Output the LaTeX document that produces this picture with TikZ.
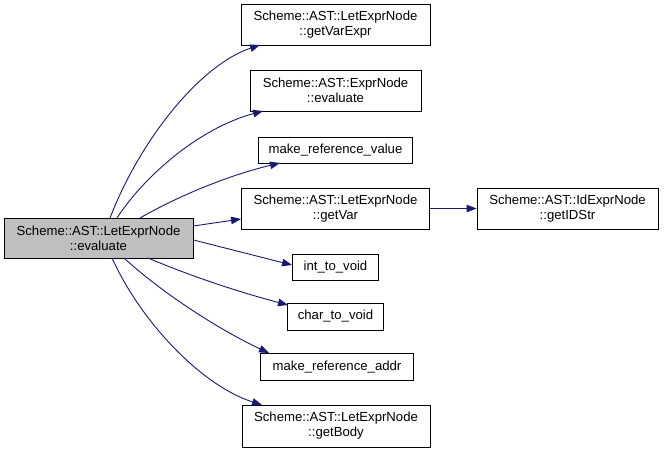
\documentclass[tikz,border=0pt]{standalone}
\usepackage{fontspec}
\setmainfont{Liberation Sans}
\usetikzlibrary{arrows.meta}
\definecolor{edgeblue}{HTML}{191970}
\definecolor{mainfill}{HTML}{BFBFBF}
\begin{document}
\begin{tikzpicture}[x=1bp,y=-1bp,
  box/.style={draw=black, line width=0.9bp, fill=white, inner sep=0pt, align=center,
    font=\fontsize{13.2}{15.2}\selectfont, text=black},
  edge/.style={draw=edgeblue, line width=0.9bp, -{Triangle[length=10bp,width=7.5bp]}, fill=none}]
\useasboundingbox (0,0) rectangle (664,453);
\node[box, fill=mainfill, minimum width=189bp, minimum height=40bp] (main) at (98.5,238) {Scheme::AST::LetExprNode\\::evaluate};
\node[box, minimum width=189bp, minimum height=41bp] (gve) at (335.5,24.5) {Scheme::AST::LetExprNode\\::getVarExpr};
\node[box, minimum width=171bp, minimum height=41bp] (ee) at (335.5,90.5) {Scheme::AST::ExprNode\\::evaluate};
\node[box, minimum width=154bp, minimum height=26bp] (mrv) at (335.5,150) {make\_reference\_value};
\node[box, minimum width=188bp, minimum height=41bp] (gv) at (335.5,208.5) {Scheme::AST::LetExprNode\\::getVar};
\node[box, minimum width=181bp, minimum height=41bp] (gid) at (567.5,208.5) {Scheme::AST::IdExprNode\\::getIDStr};
\node[box, minimum width=86bp, minimum height=26bp] (itv) at (335.5,267) {int\_to\_void};
\node[box, minimum width=96bp, minimum height=27bp] (ctv) at (335.5,316.5) {char\_to\_void};
\node[box, minimum width=153bp, minimum height=27bp] (mra) at (337,367) {make\_reference\_addr};
\node[box, minimum width=188bp, minimum height=42bp] (gb) at (336,426) {Scheme::AST::LetExprNode\\::getBody};

\coordinate (s1) at (110,218);
\coordinate (s2) at (117,218);
\coordinate (s3) at (140,218);
\coordinate (s7) at (148,258);
\coordinate (s8) at (124,258);
\coordinate (s9) at (112,258);

\draw[edge] (s1) .. controls (140,140) and (200,65) .. (260,45);
\draw[edge] (s2) .. controls (145,175) and (200,128) .. (263,111);
\draw[edge] (s3) .. controls (180,195) and (230,175) .. (280,163);
\draw[edge] (main.east |- 0,226) -- (gv.west |- 0,219);
\draw[edge] (main.east |- 0,240) -- (itv.west |- 0,265);
\draw[edge] (s7) .. controls (200,280) and (250,295) .. (288,305);
\draw[edge] (s8) .. controls (170,300) and (230,335) .. (269,353);
\draw[edge] (s9) .. controls (140,320) and (200,385) .. (262,405);
\draw[edge] (gv) -- (gid);
\end{tikzpicture}
\end{document}
